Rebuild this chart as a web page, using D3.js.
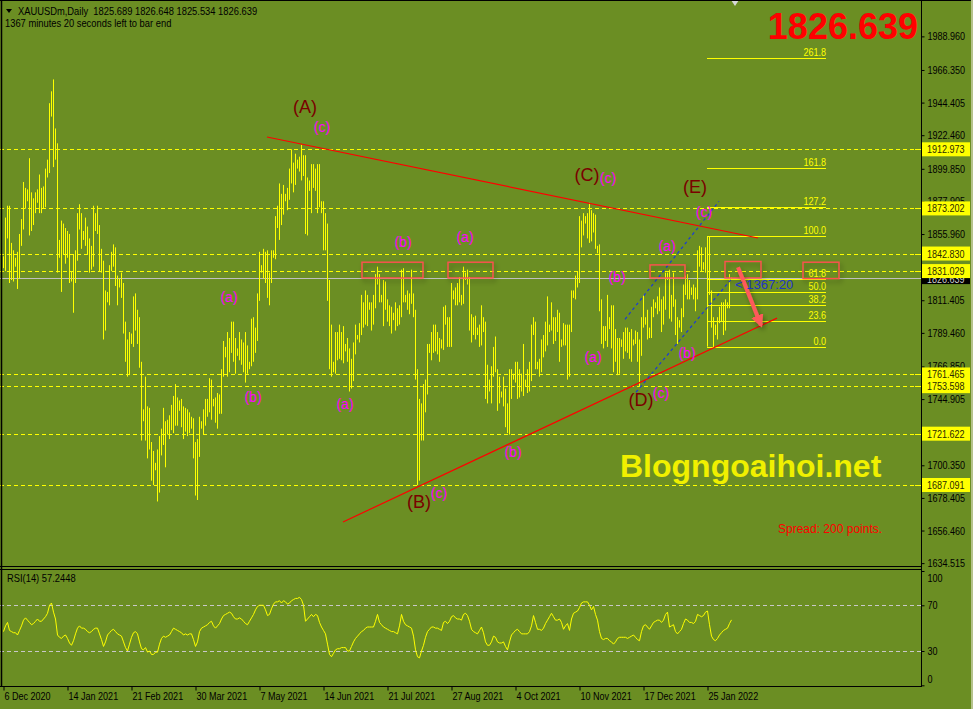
<!DOCTYPE html>
<html><head><meta charset="utf-8">
<script src="https://cdn.jsdelivr.net/npm/d3@7"></script>
<style>
html,body{margin:0;padding:0;background:#6b8e23;overflow:hidden;}
svg{display:block;}
text{font-family:"Liberation Sans",Arial,sans-serif;}
</style></head><body>
<svg id="c" width="973" height="709"></svg>
<script>
// ---------- DATA ----------
const highs=[1841,1867,1875,1875,1850,1845,1840,1844,1856,1866,
1891,1887,1886,1907,1884,1880,1884,1886,1896,1887,
1888,1900,1906,1944,1952,1960,1927,1917,1852,1865,
1863,1860,1858,1856,1831,1842,1845,1870,1876,1870,
1858,1867,1861,1853,1848,1875,1870,1875,1862,1846,
1838,1818,1817,1835,1844,1849,1847,1828,1826,1830,
1823,1797,1785,1790,1789,1814,1816,1805,1800,1770,
1738,1760,1740,1739,1716,1710,1702,1711,1720,1725,
1739,1730,1731,1734,1741,1747,1755,1746,1744,1745,
1740,1739,1738,1736,1733,1732,1716,1718,1733,1730,
1738,1745,1745,1759,1758,1745,1746,1749,1748,1765,
1784,1780,1790,1786,1797,1797,1786,1779,1790,1785,
1783,1790,1781,1770,1799,1800,1793,1816,1844,1835,
1846,1844,1845,1830,1845,1845,1868,1875,1890,1883,
1889,1883,1887,1900,1913,1904,1910,1906,1908,1916,
1909,1909,1894,1892,1903,1903,1900,1903,1903,1878,
1878,1870,1863,1825,1795,1770,1790,1790,1795,1790,
1794,1782,1786,1779,1772,1783,1795,1788,1796,1815,
1810,1818,1815,1810,1810,1815,1829,1834,1829,1815,
1825,1824,1812,1808,1807,1803,1810,1806,1808,1832,
1833,1815,1818,1816,1832,1816,1805,1765,1745,1742,
1755,1758,1782,1782,1790,1795,1795,1790,1786,1785,
1807,1808,1800,1800,1823,1818,1820,1823,1827,1815,
1834,1830,1832,1827,1802,1800,1801,1793,1795,1808,
1800,1797,1768,1758,1767,1780,1787,1765,1760,1750,
1760,1752,1742,1765,1765,1762,1770,1770,1765,1762,
1782,1758,1765,1770,1795,1800,1797,1770,1772,1785,
1788,1797,1814,1795,1810,1800,1800,1805,1803,1785,
1796,1795,1795,1795,1818,1818,1828,1831,1868,1865,
1870,1868,1870,1877,1872,1870,1869,1848,1849,1812,
1794,1794,1815,1800,1808,1808,1792,1786,1786,1785,
1790,1793,1793,1790,1792,1785,1791,1790,1785,1800,
1815,1800,1805,1793,1807,1812,1810,1814,1820,1812,
1814,1830,1830,1832,1815,1830,1812,1800,1798,1806,
1822,1828,1829,1825,1820,1822,1820,1845,1848,1847,
1837,1847,1852,1854,1818,1800,1795,1800,1807,1810,
1810,1812,1810,1829,1826.6];
const lows=[1833,1831,1853,1823,1825,1824,1834,1819,1826,1848,
1859,1873,1878,1855,1858,1862,1870,1877,1870,1870,
1873,1874,1894,1897,1935,1901,1906,1830,1840,1817,
1842,1836,1840,1823,1824,1803,1823,1838,1859,1846,
1852,1848,1842,1830,1832,1834,1858,1856,1831,1830,
1785,1791,1810,1808,1831,1834,1821,1808,1820,1813,
1789,1770,1760,1761,1782,1780,1791,1782,1766,1717,
1730,1717,1705,1711,1690,1687,1697,1676,1682,1707,
1714,1699,1721,1718,1724,1722,1727,1727,1737,1726,
1718,1723,1720,1722,1725,1705,1680,1677,1706,1725,
1721,1727,1733,1736,1731,1740,1729,1725,1735,1735,
1760,1773,1760,1763,1776,1770,1762,1774,1771,1768,
1763,1756,1762,1765,1767,1770,1776,1784,1811,1830,
1826,1823,1813,1808,1823,1840,1839,1860,1852,1862,
1869,1878,1872,1879,1890,1884,1889,1900,1898,1892,
1895,1856,1855,1885,1870,1887,1885,1870,1874,1870,
1845,1845,1811,1765,1760,1763,1762,1771,1772,1771,
1769,1777,1770,1750,1752,1757,1775,1785,1783,1788,
1793,1795,1794,1805,1791,1795,1806,1822,1810,1810,
1794,1805,1797,1794,1789,1798,1791,1794,1795,1800,
1810,1810,1805,1802,1809,1800,1758,1687,1690,1717,
1717,1736,1748,1776,1771,1776,1777,1775,1770,1779,
1778,1795,1780,1780,1780,1812,1808,1808,1810,1808,
1809,1825,1822,1791,1783,1788,1785,1788,1780,1781,
1790,1745,1742,1750,1742,1760,1763,1737,1742,1746,
1740,1726,1722,1721,1745,1758,1756,1745,1746,1750,
1747,1753,1749,1750,1757,1788,1765,1765,1760,1763,
1773,1777,1781,1790,1791,1782,1784,1790,1770,1780,
1781,1781,1758,1760,1790,1813,1812,1820,1823,1847,
1855,1863,1853,1850,1851,1857,1846,1843,1804,1782,
1779,1784,1780,1792,1779,1763,1770,1761,1762,1780,
1772,1777,1776,1772,1770,1781,1782,1770,1753,1774,
1793,1795,1785,1786,1786,1800,1806,1802,1804,1790,
1795,1805,1825,1799,1797,1807,1788,1782,1793,1790,
1800,1815,1812,1812,1815,1812,1804,1812,1834,1831,
1832,1830,1833,1815,1793,1780,1788,1785,1796,1797,
1788,1791,1806,1806,1825.5];
const rsi=[47,52,55,48,47,46,46,44,48,52,
57,59,57,55,53,54,56,58,56,56,
58,60,63,70,72,64,58,44,42,41,
43,44,41,37,35,39,45,50,52,50,
50,49,47,46,47,49,50,50,45,40,
34,38,44,46,48,49,47,45,44,43,
38,33,30,36,42,46,47,45,38,32,
31,33,29,30,27,27,29,29,36,41,
43,42,43,44,47,50,49,48,47,46,
44,45,44,45,45,40,34,38,47,50,
51,52,53,55,56,52,50,52,54,58,
61,62,63,64,63,60,58,58,59,58,
56,54,53,56,59,62,66,69,70,70,
70,66,61,62,67,71,73,73,74,72,
74,73,71,72,74,75,76,76,77,75,
70,56,58,60,62,60,62,61,55,51,
48,45,36,27,25,28,31,32,32,33,
33,33,30,30,34,38,41,43,45,47,
48,50,51,51,51,51,56,62,55,53,
51,50,49,48,47,47,46,45,52,62,
56,53,52,51,50,43,31,25,24,30,
35,42,47,49,51,51,50,50,49,48,
55,56,54,56,60,61,59,58,58,57,
62,63,61,56,49,47,46,45,48,51,
46,38,35,35,38,43,42,38,37,37,
38,34,31,38,44,46,48,49,47,45,
45,45,45,47,52,61,55,49,49,48,
50,54,57,60,63,60,57,57,58,55,
49,52,54,48,58,63,64,65,68,72,
73,73,73,70,66,69,62,57,47,41,
40,41,41,39,38,36,38,41,42,42,
42,42,41,42,43,44,42,40,39,47,
52,53,51,49,52,55,56,57,57,55,
57,62,64,51,52,53,47,45,47,49,
54,58,57,55,55,54,56,62,61,60,
61,64,65,53,43,40,39,41,44,46,
48,49,50,54,57.24];
const dateLabels=["6 Dec 2020","14 Jan 2021","21 Feb 2021","30 Mar 2021","7 May 2021","14 Jun 2021","21 Jul 2021","27 Aug 2021","4 Oct 2021","10 Nov 2021","17 Dec 2021","25 Jan 2022"];
const dateIdx=[0,32,64,96,128,160,192,224,256,288,320,352];
const priceTicks=[1988.960,1966.350,1944.405,1922.460,1899.850,1877.905,1855.960,1811.405,1789.460,1766.850,1744.905,1700.350,1678.405,1656.460,1634.515];
const levelPrices=[1912.973,1873.202,1842.830,1831.029,1761.465,1753.598,1721.622,1687.091];
const lastPrice=1826.639;
const rsiTicks=[100,70,30,0];
const rsiLevels=[70,30];
const fibLevels=[0,23.6,38.2,50,61.8,100,127.2,161.8,261.8];
const fibLow=1780.2, fibHigh=1854.3, fibFrom=352, fibTo=411.5;
const bigText=["(A)","(B)","(C)","(D)","(E)"];
const bigIdx=[151,208,292,319,346];
const bigPrice=[1941.4,1675.6,1895.7,1744.6,1887.6];
const smallText=["(c)","(c)","(c)","(c)","(c)","(a)","(b)","(a)","(b)","(a)","(b)","(a)","(b)","(a)","(b)"];
const smallIdx=[159.5,218,302.5,329,350.5,113,125,171,200,231,255,295,307,332,342];
const smallPrice=[1928,1681.7,1893.7,1748.9,1870.8,1813.6,1746.3,1741.6,1850.6,1854.0,1709.3,1773.2,1827.0,1847.9,1775.9];
const trendIdx=[[132,377.5],[170,387]];
const trendPrice=[[1921.25,1853.3],[1662.2,1799.4]];
const blueIdx=[[311,358],[316.5,364.5]];
const bluePrice=[[1798.6,1878.0],[1749.5,1826.2]];
const boxFrom=[179.5,222.5,323.5,361,400];
const boxTo=[210,245,341,379,418];
const boxTop=[1837,1837,1835.2,1837.5,1837];
const boxBottom=[1826.4,1826.4,1826.4,1826.4,1826];
const arrowIdx=[367.5,379], arrowPrice=[1833.6,1794.6];

// ---------- LAYOUT ----------
const W=973,H=709,AX=921,MB=566.5,RT=569,RB=686;
const UI=0.82;
const svg=d3.select("#c");
const x=d3.scaleLinear().domain([0,364]).range([3,731]);
const y=d3.scaleLinear().domain([1912.973,1687.091]).range([149.3,485]);
const yr=d3.scaleLinear().domain([0,100]).range([685.3,571]);
const px=v=>Math.round(v)+0.5;
function condense(sel,k){sel.each(function(){const w=this.getComputedTextLength();
  d3.select(this).attr("textLength",w*k).attr("lengthAdjust","spacingAndGlyphs");});}

svg.append("rect").attr("width",W).attr("height",H).attr("fill","#6b8e23");
const defs=svg.append("defs");
defs.append("clipPath").attr("id","cm").append("rect").attr("x",0).attr("y",0).attr("width",AX).attr("height",MB);
defs.append("clipPath").attr("id","cr").append("rect").attr("x",0).attr("y",RT).attr("width",AX).attr("height",RB-RT);
const f=defs.append("filter").attr("id","sh").attr("x","-30%").attr("y","-60%").attr("width","160%").attr("height","220%");
f.append("feDropShadow").attr("dx",2).attr("dy",3).attr("stdDeviation",2.5).attr("flood-color","#000").attr("flood-opacity",0.35);
const mk=defs.append("marker").attr("id","ah").attr("viewBox","0 0 10 10").attr("refX",8).attr("refY",5)
  .attr("markerWidth",3.2).attr("markerHeight",3.2).attr("orient","auto");
mk.append("path").attr("d","M0,0L10,5L0,10Z").attr("fill","#ff5a5a");

const main=svg.append("g").attr("clip-path","url(#cm)");

main.selectAll(".lvl").data(levelPrices).join("line")
  .attr("x1",0).attr("x2",AX).attr("y1",d=>px(y(d))).attr("y2",d=>px(y(d)))
  .attr("stroke","#ffff00").attr("stroke-dasharray","4,3");
main.append("line").attr("x1",0).attr("x2",AX).attr("y1",px(y(lastPrice))).attr("y2",px(y(lastPrice)))
  .attr("stroke","#c0c0c0");

main.selectAll(".bar").data(highs).join("line")
  .attr("x1",(d,i)=>px(x(i))).attr("x2",(d,i)=>px(x(i)))
  .attr("y1",d=>y(d)).attr("y2",(d,i)=>y(lows[i]))
  .attr("stroke","#ffff00").attr("stroke-width",1);

main.append("line").attr("x1",px(x(fibFrom))).attr("x2",px(x(fibFrom)))
  .attr("y1",y(fibHigh)).attr("y2",y(fibLow)).attr("stroke","#ffff00");
main.selectAll(".fib").data(fibLevels).join("line")
  .attr("x1",x(fibFrom)).attr("x2",x(fibTo))
  .attr("y1",d=>px(y(fibLow+(fibHigh-fibLow)*d/100))).attr("y2",d=>px(y(fibLow+(fibHigh-fibLow)*d/100)))
  .attr("stroke","#ffff00");
main.selectAll(".fibt").data(fibLevels).join("text")
  .attr("x",x(fibTo)).attr("y",d=>Math.round(y(fibLow+(fibHigh-fibLow)*d/100))-2)
  .attr("text-anchor","end").attr("font-size",10).attr("fill","#ffff00")
  .text(d=>d.toFixed(1)).call(condense,0.9);

trendIdx.forEach((t,k)=>{
  main.append("line").attr("x1",x(t[0])).attr("x2",x(t[1]))
    .attr("y1",y(trendPrice[k][0])).attr("y2",y(trendPrice[k][1]))
    .attr("stroke","#ff0000").attr("stroke-width",1.2);
});
blueIdx.forEach((t,k)=>{
  main.append("line").attr("x1",x(t[0])).attr("x2",x(t[1]))
    .attr("y1",y(bluePrice[k][0])).attr("y2",y(bluePrice[k][1]))
    .attr("stroke","#1a3ad8").attr("stroke-width",1.2).attr("stroke-dasharray","3,3");
});

main.selectAll(".box").data(boxFrom).join("rect")
  .attr("x",d=>x(d)).attr("width",(d,i)=>x(boxTo[i])-x(d))
  .attr("y",(d,i)=>y(boxTop[i])).attr("height",(d,i)=>y(boxBottom[i])-y(boxTop[i]))
  .attr("fill","none").attr("stroke","#ff5050").attr("stroke-width",1.4).attr("filter","url(#sh)");

main.append("line").attr("x1",x(arrowIdx[0])).attr("y1",y(arrowPrice[0]))
  .attr("x2",x(arrowIdx[1])).attr("y2",y(arrowPrice[1]))
  .attr("stroke","#ff5a5a").attr("stroke-width",4).attr("marker-end","url(#ah)").attr("filter","url(#sh)");

main.append("text").attr("x",x(366)).attr("y",y(lastPrice)+11)
  .attr("font-size",13).attr("fill","#1f35c8").text("< 1367:20");

main.selectAll(".big").data(bigText).join("text")
  .attr("x",(d,i)=>x(bigIdx[i])).attr("y",(d,i)=>y(bigPrice[i]))
  .attr("text-anchor","middle").attr("dominant-baseline","central")
  .attr("font-size",18).attr("fill","#7a0000").text(d=>d);
main.selectAll(".sm").data(smallText).join("text")
  .attr("x",(d,i)=>x(smallIdx[i])).attr("y",(d,i)=>y(smallPrice[i]))
  .attr("text-anchor","middle").attr("dominant-baseline","central")
  .attr("font-size",14).attr("fill","#ff00ff").text(d=>d);

svg.append("text").attr("x",620).attr("y",477).attr("font-size",32).attr("font-weight","bold")
  .attr("fill","#f0f000").text("Blogngoaihoi.net");
svg.append("text").attr("x",918).attr("y",39).attr("text-anchor","end").attr("font-size",36).attr("font-weight","bold")
  .attr("fill","#ff0000").text("1826.639");
svg.append("text").attr("x",778).attr("y",533).attr("font-size",12)
  .attr("fill","#ff0000").text("Spread: 200 points.");

// header
svg.append("path").attr("d","M6,9L12,9L9,13Z").attr("fill","#000");
svg.append("text").attr("x",18).attr("y",14.5).attr("font-size",11).attr("fill","#000")
  .attr("xml:space","preserve").text("XAUUSDm,Daily  1825.689 1826.648 1825.534 1826.639").call(condense,UI+0.03);
svg.append("text").attr("x",5).attr("y",26.5).attr("font-size",11).attr("fill","#000")
  .text("1367 minutes 20 seconds left to bar end").call(condense,UI+0.03);
svg.append("path").attr("d","M731,0L739,0L735,6Z").attr("fill","#d8d8d8");

// RSI panel
const rp=svg.append("g").attr("clip-path","url(#cr)");
rp.selectAll(".rl").data(rsiLevels).join("line")
  .attr("x1",0).attr("x2",AX).attr("y1",d=>px(yr(d))).attr("y2",d=>px(yr(d)))
  .attr("stroke","#c8c8c8").attr("stroke-dasharray","4,3");
rp.append("path").datum(rsi).attr("fill","none").attr("stroke","#ffff00").attr("stroke-width",1)
  .attr("d",d3.line().x((d,i)=>x(i)+0.5).y(d=>yr(d)));
svg.append("text").attr("x",7).attr("y",582).attr("font-size",11).attr("fill","#000").text("RSI(14) 57.2448").call(condense,UI+0.03);

// frames
svg.append("line").attr("x1",0).attr("x2",W).attr("y1",0.5).attr("y2",0.5).attr("stroke","#000");
svg.append("line").attr("x1",1.5).attr("x2",1.5).attr("y1",0).attr("y2",RB).attr("stroke","#000").attr("stroke-width",1.5);
svg.append("line").attr("x1",0).attr("x2",AX).attr("y1",MB).attr("y2",MB).attr("stroke","#000");
svg.append("line").attr("x1",0).attr("x2",AX).attr("y1",RT+0.5).attr("y2",RT+0.5).attr("stroke","#000");
svg.append("line").attr("x1",AX+0.5).attr("x2",AX+0.5).attr("y1",0).attr("y2",RB).attr("stroke","#000");
svg.append("rect").attr("x",971).attr("y",0).attr("width",2).attr("height",H).attr("fill","#b4c28c");

// price axis
const pa=svg.append("g").attr("transform",`translate(${AX+0.5},0)`)
  .call(d3.axisRight(y).tickValues(priceTicks).tickFormat(d3.format(".3f")).tickSize(3).tickPadding(3));
pa.select(".domain").remove();
pa.selectAll("text").attr("font-size",11).attr("fill","#000").style("font-family","'Liberation Sans',Arial").call(condense,UI);
pa.selectAll("line").attr("stroke","#000");

// current price label (partly under the level labels)
svg.append("rect").attr("x",AX+1).attr("y",y(lastPrice)-6.5).attr("width",48).attr("height",13).attr("fill","#000");
svg.append("text").attr("x",AX+6).attr("y",y(lastPrice)+5).attr("font-size",11).attr("fill","#d0d0d0").text(lastPrice.toFixed(3)).call(condense,UI);
const lg=svg.selectAll(".lbl").data(levelPrices).join("g");
lg.append("rect").attr("x",AX+1).attr("y",d=>y(d)-7).attr("width",48).attr("height",14).attr("fill","#ffff00");
lg.append("text").attr("x",AX+6).attr("y",d=>y(d)+4).attr("font-size",11).attr("fill","#2a2a00").text(d=>d.toFixed(3)).call(condense,UI);
svg.selectAll(".lt").data(levelPrices).join("line").attr("x1",AX-6).attr("x2",AX).attr("y1",d=>px(y(d))).attr("y2",d=>px(y(d))).attr("stroke","#ffff00");

// RSI axis
const ra=svg.append("g").attr("transform",`translate(${AX+0.5},0)`)
  .call(d3.axisRight(yr).tickValues(rsiTicks).tickSize(3).tickPadding(3));
ra.select(".domain").remove();
ra.selectAll("line").attr("stroke","#000");
ra.selectAll("text").attr("font-size",11).attr("fill","#000").style("font-family","'Liberation Sans',Arial")
  .attr("dy",d=>d===100?"0.95em":(d===0?"-0.3em":"0.32em")).call(condense,UI);

// date axis
const da=svg.append("g").attr("transform",`translate(0,${RB+0.5})`)
  .call(d3.axisBottom(x).tickValues(dateIdx).tickFormat((d,i)=>dateLabels[i]).tickSize(4).tickPadding(2));
da.select(".domain").attr("d",`M0,0H${AX+1}`).attr("stroke","#000");
da.selectAll("line").attr("stroke","#000");
da.selectAll("text").attr("text-anchor","start").attr("dx",1).attr("font-size",11).attr("fill","#000")
  .style("font-family","'Liberation Sans',Arial").call(condense,UI);
da.selectAll(".tick line").attr("transform","translate(0.5,0)");
</script>
</body></html>
